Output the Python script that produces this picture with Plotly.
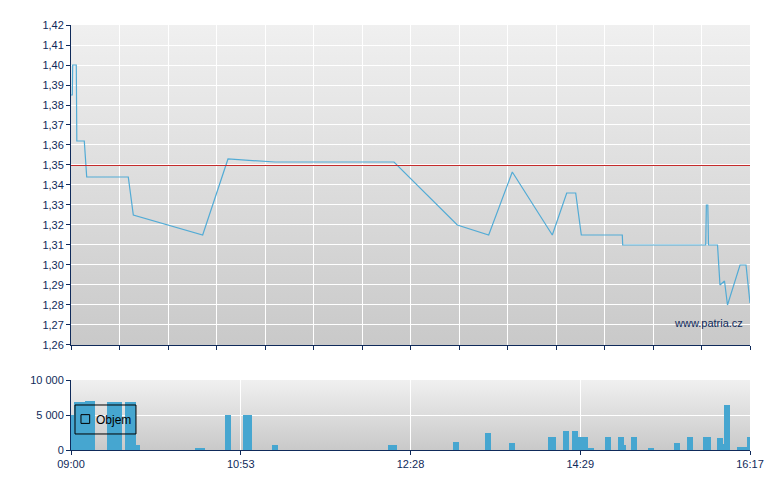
import base64
import plotly.graph_objects as go

# ---- data -------------------------------------------------------------
# x positions are in "session slot" units (0 = 09:00 open, 14 = 16:17 last trade)
price_pos = [0, 0.027, 0.035, 0.109, 0.12, 0.274, 0.324, 1.181, 1.285, 2.715,
             3.237, 3.6, 4.206, 6.660, 7.965, 8.612, 9.099, 9.924, 10.221,
             10.406, 10.522, 11.367, 11.375, 13.087, 13.10, 13.13, 13.144,
             13.33, 13.381, 13.474, 13.536, 13.794, 13.918, 14.0]
price_val = [1.385, 1.385, 1.40, 1.40, 1.362, 1.362, 1.344, 1.344, 1.325, 1.315,
             1.353, 1.3525, 1.3515, 1.3515, 1.320, 1.315, 1.3465, 1.315, 1.336,
             1.336, 1.315, 1.315, 1.310, 1.310, 1.330, 1.330, 1.310,
             1.310, 1.290, 1.292, 1.280, 1.300, 1.300, 1.281]
reference_price = 1.35

vol_pos = [0, 0.124, 0.227, 0.351, 0.439, 0.798, 0.887, 0.984, 1.175, 1.272,
           1.355, 2.619, 2.695, 3.237, 3.608, 3.670, 4.206, 6.598, 6.654, 7.938,
           8.598, 9.093, 9.897, 9.938, 10.206, 10.392, 10.515, 10.598, 10.722,
           11.072, 11.340, 11.371, 11.608, 11.959, 12.495, 12.763, 13.093,
           13.134, 13.381, 13.412, 13.526, 13.794, 13.876, 14.0]
vol_val = [5000, 6800, 6800, 6950, 6950, 6900, 6900, 6900, 6900, 6900,
           750, 150, 150, 5000, 5000, 5000, 720, 720, 720, 1150,
           2500, 1000, 1880, 1880, 2740, 2740, 1880, 1880, 150,
           1880, 1880, 720, 1880, 190, 1000, 1880, 1880,
           1880, 1730, 870, 6500, 430, 430, 1880]

price_range = [1.26, 1.42]
price_ticks = [1.26 + i * 0.01 for i in range(17)]
slot_ticks = list(range(15))
time_tick_pos = [0, 3.5, 7, 10.5, 14]
time_tick_text = ["09:00", "10:53", "12:28", "14:29", "16:17"]
legend_label = "Objem"

# ---- styling ----------------------------------------------------------
NAVY = "#0f2a5a"
LINE_BLUE = "#52abd5"
BAR_BLUE = "#46a6d0"
FONT = "Liberation Sans, Arial, sans-serif"

svg = ('<svg xmlns="http://www.w3.org/2000/svg" width="10" height="100" '
       'viewBox="0 0 10 100" preserveAspectRatio="none"><defs>'
       '<linearGradient id="g" x1="0" y1="0" x2="0" y2="1">'
       '<stop offset="0" stop-color="#f0f0f0"/><stop offset="1" stop-color="#c9c9c9"/>'
       '</linearGradient></defs><rect width="10" height="100" fill="url(#g)"/></svg>')
grad = "data:image/svg+xml;base64," + base64.b64encode(svg.encode()).decode()

top_dom = [0.2471, 1.0]
vol_dom = [0.0, 0.1647]
PRICE_PANEL_PX = 320
# half-pixel nudge so the 1px reference line lands on a single pixel row
half_px = 0.5 * (price_range[1] - price_range[0]) / PRICE_PANEL_PX

fig = go.Figure()
fig.add_trace(go.Scatter(x=price_pos, y=price_val, mode="lines",
                         line=dict(color=LINE_BLUE, width=1.2),
                         showlegend=False, xaxis="x", yaxis="y",
                         hoverinfo="skip"))
fig.add_trace(go.Bar(x=vol_pos, y=vol_val, width=0.124, name=legend_label,
                     marker=dict(color=BAR_BLUE, line=dict(width=0)),
                     showlegend=False, xaxis="x2", yaxis="y2"))

# reference (previous close) line
fig.add_shape(type="line", xref="x domain", x0=0, x1=1, yref="y",
              y0=reference_price - half_px, y1=reference_price - half_px,
              line=dict(color="#c42a2a", width=1))

# legend box drawn in the volume panel
fig.add_shape(type="rect", xref="x2 domain", yref="y2 domain",
              x0=0.0059, x1=0.0957, y0=0.229, y1=0.643,
              line=dict(color="black", width=1), fillcolor="rgba(0,0,0,0)")
fig.add_shape(type="rect", xref="x2 domain", yref="y2 domain",
              x0=0.0147, x1=0.0275, y0=0.38, y1=0.505,
              line=dict(color="black", width=1), fillcolor="rgba(0,0,0,0)")
fig.add_annotation(text=legend_label, xref="x2 domain", yref="y2 domain",
                   x=0.0345, y=0.435, xanchor="left", yanchor="middle",
                   showarrow=False,
                   font=dict(family=FONT, size=12, color="black"))

common_axis = dict(showline=True, linecolor=NAVY, linewidth=1, ticks="outside",
                   ticklen=4, tickcolor=NAVY, showgrid=True, gridcolor="white",
                   gridwidth=1, zeroline=False,
                   tickfont=dict(family=FONT, size=11, color=NAVY))

fig.update_layout(
    width=772, height=482,
    margin=dict(l=63, r=30, t=17, b=40),
    paper_bgcolor="white", plot_bgcolor="rgba(0,0,0,0)",
    separators=", ",
    font=dict(family=FONT, size=11, color=NAVY),
    xaxis=dict(common_axis, domain=[0, 1], range=[0, 14], tickvals=slot_ticks,
               showticklabels=False, anchor="y"),
    yaxis=dict(common_axis, domain=top_dom, range=price_range,
               tickvals=price_ticks, tickformat=".2f", anchor="x"),
    xaxis2=dict(common_axis, domain=[0, 1], range=[0, 14], tickvals=time_tick_pos,
                ticktext=time_tick_text, anchor="y2"),
    yaxis2=dict(common_axis, domain=vol_dom, range=[0, 10000],
                tickvals=[0, 5000, 10000], tickformat=",d", anchor="x2"),
    images=[
        dict(source=grad, xref="paper", yref="paper", x=0, y=top_dom[1],
             sizex=1, sizey=top_dom[1] - top_dom[0], xanchor="left",
             yanchor="top", sizing="stretch", layer="below"),
        dict(source=grad, xref="paper", yref="paper", x=0, y=vol_dom[1],
             sizex=1, sizey=vol_dom[1] - vol_dom[0], xanchor="left",
             yanchor="top", sizing="stretch", layer="below"),
    ],
    bargap=0,
    showlegend=False,
    annotations=list(fig.layout.annotations) + [
        dict(text="www.patria.cz", xref="paper", yref="paper",
             x=0.9926, y=0.2988, xanchor="right", yanchor="middle",
             showarrow=False, font=dict(family=FONT, size=11, color=NAVY))],
)

fig.write_html("out.html")
